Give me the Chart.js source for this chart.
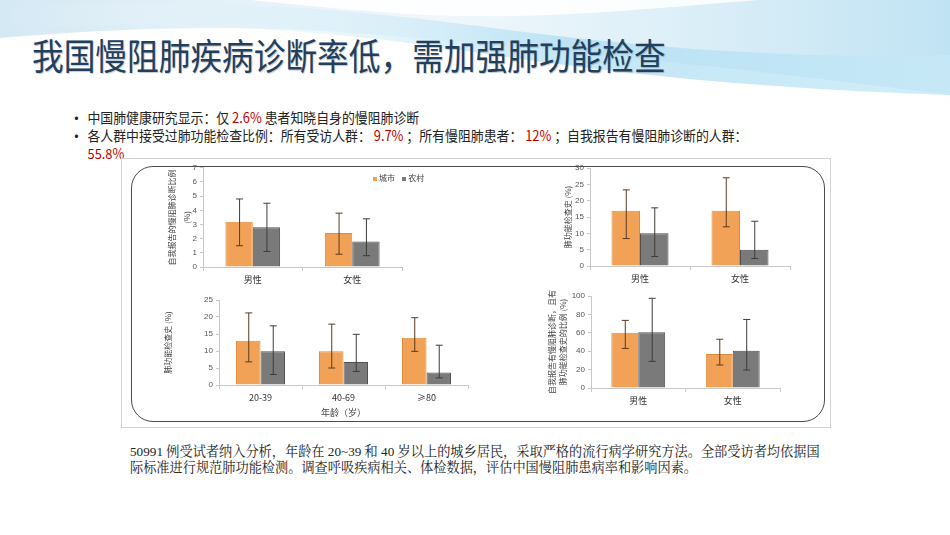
<!DOCTYPE html>
<html>
<head>
<meta charset="utf-8">
<script src="https://cdn.jsdelivr.net/npm/chart.js@4.4.1/dist/chart.umd.min.js"></script>
<style>
  body { margin: 0; width: 950px; height: 535px; position: relative; overflow: hidden; background: #fff; font-family: "Noto Sans CJK SC", "Liberation Sans", sans-serif; }
  .abs { position: absolute; }
  #title { left: 32px; top: 33px; font-size: 36px; line-height: 42px; color: #22405e; white-space: nowrap; transform: scaleX(0.88); transform-origin: left top; text-shadow: 1px 1px 1px rgba(0,0,0,0.22); }
  .bullet { left: 70px; font-size: 14px; line-height: 18px; color: #222; white-space: nowrap; transform: scaleX(0.92); transform-origin: left top; }
  .bullet b { display: inline-block; width: 19px; }
  .red { color: #c00000; }
  #outer { left: 121px; top: 158px; width: 708px; height: 268px; border: 1px solid #d3d3d3; background: #fff; }
  #frame { left: 131px; top: 166px; width: 692px; height: 254px; border: 1.5px solid #4a4a4a; border-radius: 22px; }
  .box { position: absolute; }
  #legend { left: 373px; top: 172px; font-size: 8px; color: #444; white-space: nowrap; }
  #legend span.sw { display: inline-block; width: 4px; height: 4px; margin-right: 2px; vertical-align: middle; }
  #para { left: 130px; top: 444px; width: 702px; font-family: "Liberation Serif", "Noto Serif CJK SC", "Noto Sans CJK SC", serif; font-size: 13.2px; line-height: 16px; color: #222; }
</style>
</head>
<body>
<svg class="abs" style="left:0;top:0" width="950" height="110">
  <defs>
    <linearGradient id="g1" x1="0" y1="0" x2="1" y2="0">
      <stop offset="0" stop-color="#cfe6f3" stop-opacity="0.9"/>
      <stop offset="0.45" stop-color="#e6f2f9" stop-opacity="0.6"/>
      <stop offset="1" stop-color="#b9e0f2" stop-opacity="0.9"/>
    </linearGradient>
    <linearGradient id="g2" x1="0" y1="0" x2="1" y2="0">
      <stop offset="0" stop-color="#ffffff" stop-opacity="0"/>
      <stop offset="0.6" stop-color="#a9dcf2" stop-opacity="0.7"/>
      <stop offset="1" stop-color="#c7e9f7" stop-opacity="0.8"/>
    </linearGradient>
  </defs>
  <path d="M0,0 L950,0 L950,95 C760,70 560,50 380,35 C230,22 100,30 0,38 Z" fill="url(#g1)"/>
  <path d="M0,10 C150,-5 320,5 470,25 C620,45 780,60 950,55 L950,95 C780,90 620,75 460,50 C310,28 160,20 0,28 Z" fill="url(#g2)"/>
  <path d="M250,0 C350,10 430,18 520,16 C600,14 680,6 760,0 Z" fill="#ffffff" opacity="0.85"/>
  <path d="M0,55 C120,42 260,46 420,60 C560,72 720,90 950,100 L950,110 L0,110 Z" fill="#ffffff"/>
</svg>
<div id="title" class="abs">我国慢阻肺疾病诊断率低，需加强肺功能检查</div>
<div class="abs bullet" style="top:108px"><b>•</b>中国肺健康研究显示：仅 <span class="red">2.6%</span> 患者知晓自身的慢阻肺诊断</div>
<div class="abs bullet" style="top:126px"><b>•</b>各人群中接受过肺功能检查比例：所有受访人群： <span class="red">9.7%</span> ；所有慢阻肺患者： <span class="red">12%</span> ；自我报告有慢阻肺诊断的人群：</div>
<div class="abs bullet" style="top:144px"><b></b><span class="red">55.8%</span></div>

<div id="outer" class="abs"></div>
<div id="frame" class="abs"></div>

<div class="box" style="left:150px;top:160px"><canvas id="c1" width="270" height="135"></canvas></div>
<div class="box" style="left:540px;top:160px"><canvas id="c2" width="270" height="135"></canvas></div>
<div class="box" style="left:150px;top:290px"><canvas id="c3" width="340" height="135"></canvas></div>
<div class="box" style="left:540px;top:285px"><canvas id="c4" width="270" height="135"></canvas></div>
<div id="legend" class="abs"><span class="sw" style="background:#f2a257"></span>城市&nbsp;&nbsp;&nbsp;&nbsp;<span class="sw" style="background:#7a7a7a"></span>农村</div>

<div id="para" class="abs">50991 例受试者纳入分析，年龄在 20~39 和 40 岁以上的城乡居民，采取严格的流行病学研究方法。全部受访者均依据国际标准进行规范肺功能检测。调查呼吸疾病相关、体检数据，评估中国慢阻肺患病率和影响因素。</div>

<script>
const sexLabels = ['男性', '女性'];
const ageLabels = ['20-39', '40-69', '≥80'];
const seriesNames = ['城市', '农村'];

// 自我报告的慢阻肺诊断比例
const diagUrban = [3.2, 2.4];
const diagUrbanLow = [1.5, 0.9];
const diagUrbanHigh = [4.8, 3.8];
const diagRural = [2.8, 1.8];
const diagRuralLow = [1.1, 0.8];
const diagRuralHigh = [4.5, 3.4];

// 肺功能检查史（按性别）
const sexUrban = [16.9, 16.9];
const sexUrbanLow = [8.4, 12.0];
const sexUrbanHigh = [23.3, 27.0];
const sexRural = [10.0, 5.0];
const sexRuralLow = [2.9, 2.3];
const sexRuralHigh = [17.8, 13.7];

// 肺功能检查史（按年龄）
const ageUrban = [13.0, 9.9, 13.9];
const ageUrbanLow = [6.8, 5.0, 9.9];
const ageUrbanHigh = [21.2, 17.9, 19.8];
const ageRural = [9.9, 6.8, 3.7];
const ageRuralLow = [3.1, 4.0, 2.1];
const ageRuralHigh = [17.4, 14.9, 11.7];

// 自我报告有慢阻肺诊断且有肺功能检查史
const selfUrban = [60.0, 37.0];
const selfUrbanLow = [43.0, 25.0];
const selfUrbanHigh = [73.5, 53.0];
const selfRural = [60.5, 40.5];
const selfRuralLow = [29.0, 19.5];
const selfRuralHigh = [97.5, 74.5];

const orange = '#f2a257';
const gray = '#7a7a7a';

// draws the whiskers from the dataset's low/high arrays
const errorBars = {
    id: 'errorBars',
    afterDatasetsDraw(chart) {
        const ctx = chart.ctx;
        const y = chart.scales.y;
        ctx.save();
        chart.data.datasets.forEach((ds, i) => {
            const meta = chart.getDatasetMeta(i);
            meta.data.forEach((bar, j) => {
                const lo = y.getPixelForValue(ds.errLow[j]);
                const hi = y.getPixelForValue(ds.errHigh[j]);
                ctx.strokeStyle = i === 0 ? '#5a3a22' : '#3c3c3c';
                ctx.lineWidth = 1;
                ctx.beginPath();
                ctx.moveTo(bar.x + 0.5, lo);
                ctx.lineTo(bar.x + 0.5, hi);
                ctx.moveTo(bar.x - 3, hi);
                ctx.lineTo(bar.x + 4, hi);
                ctx.moveTo(bar.x - 3, lo);
                ctx.lineTo(bar.x + 4, lo);
                ctx.stroke();
            });
        });
        ctx.restore();
    }
};

function makeChart(id, labels, urban, urbanLow, urbanHigh, rural, ruralLow, ruralHigh, cfg) {
    const ctx = document.getElementById(id).getContext('2d');
    return new Chart(ctx, {
        type: 'bar',
        data: {
            labels: labels,
            datasets: [{
                label: seriesNames[0],
                data: urban,
                errLow: urbanLow,
                errHigh: urbanHigh,
                backgroundColor: orange,
                borderColor: '#e08a3c',
                borderWidth: 1,
                categoryPercentage: cfg.cat,
                barPercentage: 1
            }, {
                label: seriesNames[1],
                data: rural,
                errLow: ruralLow,
                errHigh: ruralHigh,
                backgroundColor: gray,
                borderColor: '#4f4f4f',
                borderWidth: 1,
                categoryPercentage: cfg.cat,
                barPercentage: 1
            }]
        },
        options: {
            responsive: false,
            animation: false,
            layout: { padding: { left: 0, top: cfg.top, right: cfg.right, bottom: 0 } },
            plugins: { legend: { display: false }, tooltip: { enabled: false } },
            scales: {
                x: {
                    grid: { drawOnChartArea: false, tickLength: 4, color: '#c8c8c8' },
                    border: { color: '#c8c8c8' },
                    ticks: { color: '#333', font: { size: 9, family: 'Noto Sans CJK SC' }, padding: 3 },
                    title: cfg.xTitle ? { display: true, text: cfg.xTitle, color: '#444', font: { size: 9, family: 'Noto Sans CJK SC' }, padding: { top: 2, bottom: 7 } } : { display: false },
                    afterFit: function (scale) { scale.height = cfg.xh; }
                },
                y: {
                    min: 0,
                    max: cfg.max,
                    grid: { drawOnChartArea: false, tickLength: 3, color: '#c8c8c8' },
                    border: { color: '#c8c8c8' },
                    ticks: { stepSize: cfg.step, color: '#555', font: { size: 8, family: 'Liberation Sans' }, padding: 3 },
                    title: {
                        display: true,
                        text: cfg.yTitle,
                        color: '#444',
                        font: { size: 8, family: 'Noto Sans CJK SC', lineHeight: cfg.tlh },
                        padding: { top: cfg.tpad, bottom: 0 }
                    },
                    afterFit: function (scale) { scale.width = cfg.yw; }
                }
            }
        },
        plugins: [errorBars]
    });
}

makeChart('c1', sexLabels, diagUrban, diagUrbanLow, diagUrbanHigh, diagRural, diagRuralLow, diagRuralHigh,
    { cat: 0.55, top: 6, right: 18, xh: 28, yw: 53, max: 7, step: 1, tlh: 1.8, tpad: 15, yTitle: ['自我报告的慢阻肺诊断比例', '(%)'] });
makeChart('c2', sexLabels, sexUrban, sexUrbanLow, sexUrbanHigh, sexRural, sexRuralLow, sexRuralHigh,
    { cat: 0.57, top: 8, right: 20, xh: 29, yw: 50, max: 30, step: 5, tlh: 1.2, tpad: 23, yTitle: '肺功能检查史 (%)' });
makeChart('c3', ageLabels, ageUrban, ageUrbanLow, ageUrbanHigh, ageRural, ageRuralLow, ageRuralHigh,
    { cat: 0.59, top: 10, right: 22, xh: 40, yw: 69, max: 25, step: 5, tlh: 1.2, tpad: 13, yTitle: '肺功能检查史 (%)', xTitle: '年龄（岁）' });
makeChart('c4', sexLabels, selfUrban, selfUrbanLow, selfUrbanHigh, selfRural, selfRuralLow, selfRuralHigh,
    { cat: 0.57, top: 11, right: 30, xh: 32, yw: 51, max: 100, step: 20, tlh: 1.4, tpad: 6, yTitle: ['自我报告有慢阻肺诊断，且有', '肺功能检查史的比例 (%)'] });
</script>
</body>
</html>
